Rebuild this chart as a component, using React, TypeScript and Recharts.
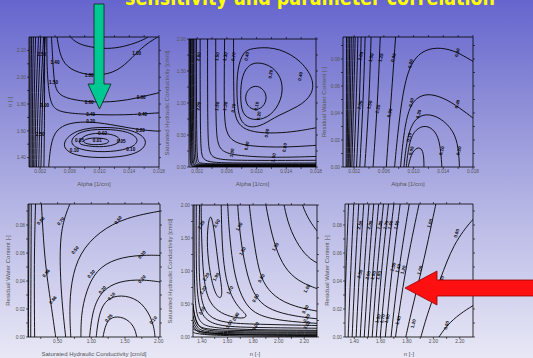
import React from 'react';
import { ScatterChart, Scatter, XAxis, YAxis, Label } from 'recharts';

// ---------- tick values ----------
const alphaTicks = [0.002, 0.004, 0.006, 0.008, 0.01, 0.012, 0.014, 0.016, 0.018];
const alphaLabels = [0.002, 0.006, 0.01, 0.014, 0.018];
const nTicks = [1.4, 1.5, 1.6, 1.7, 1.8, 1.9, 2.0, 2.1, 2.2];
const nLabels = [1.4, 1.6, 1.8, 2.0, 2.2];
const ksTicks = [0, 0.25, 0.5, 0.75, 1, 1.25, 1.5, 1.75, 2];
const ksLabels = [0, 0.5, 1, 1.5, 2];
const ksXTicks = [0.25, 0.5, 0.75, 1, 1.25, 1.5, 1.75, 2];
const ksXLabels = [0.5, 1, 1.5, 2];
const thetaTicks = [0, 0.01, 0.02, 0.03, 0.04, 0.05, 0.06, 0.07, 0.08, 0.09];
const thetaLabels = [0, 0.02, 0.04, 0.06, 0.08];

// ---------- panel 1 : Alpha vs n ----------
const p1Curves = [
  [[0.0058, 2.33], [0.006, 2.3], [0.0071, 2.248], [0.0089, 2.223], [0.0111, 2.21], [0.0133, 2.228], [0.0151, 2.26], [0.0167, 2.3], [0.017, 2.33]],
  [[0.0042, 2.33], [0.0046, 2.173], [0.0055, 2.074], [0.0078, 2.019], [0.0106, 2.012], [0.0129, 2.061], [0.0149, 2.178], [0.0164, 2.253], [0.0178, 2.297], [0.0185, 2.33]],
  [[0.0035, 2.33], [0.0037, 2.123], [0.0039, 1.949], [0.0044, 1.875], [0.0058, 1.837], [0.0089, 1.812], [0.0124, 1.817], [0.0151, 1.845], [0.0182, 1.887]],
  [[0.0029, 2.33], [0.0029, 2.074], [0.0032, 1.85], [0.0038, 1.763], [0.0053, 1.733], [0.0089, 1.721], [0.0133, 1.716], [0.0182, 1.735]],
  [[0.0031, 1.3], [0.0034, 1.502], [0.0041, 1.606], [0.0058, 1.661], [0.0089, 1.671], [0.0124, 1.638], [0.0155, 1.606], [0.0182, 1.596]],
  [[0.0006, 1.3], [0.0006, 1.825], [0.00064, 2.33]],
  [[0.00077, 1.3], [0.00077, 1.825], [0.00086, 2.33]],
  [[0.00095, 1.3], [0.00095, 1.825], [0.0011, 2.33]],
  [[0.00113, 1.3], [0.00117, 1.825], [0.0014, 2.33]],
  [[0.0013, 1.3], [0.0014, 1.825], [0.0018, 2.33]],
  [[0.0015, 1.3], [0.0017, 1.825], [0.0021, 2.33]],
  [[0.0018, 1.3], [0.002, 1.825], [0.0025, 2.33]],
  [[0.0021, 1.3], [0.0023, 1.825], [0.0027, 2.33]],
  [[0.0025, 1.3], [0.0026, 1.7], [0.0026, 2.33]],
];
const p1Loops = [
  [[0.0114, 1.521], [0.0109, 1.541], [0.0095, 1.549], [0.0082, 1.541], [0.0077, 1.521], [0.0082, 1.502], [0.0095, 1.494], [0.0109, 1.502]],
  [[0.013, 1.531], [0.0121, 1.571], [0.01, 1.586], [0.0079, 1.571], [0.007, 1.507], [0.0079, 1.49], [0.01, 1.477], [0.0121, 1.492]],
  [[0.0155, 1.527], [0.0141, 1.596], [0.0106, 1.616], [0.0072, 1.601], [0.0058, 1.514], [0.0072, 1.457], [0.0106, 1.437], [0.0141, 1.462]],
  [[0.0167, 1.514], [0.0151, 1.601], [0.0111, 1.633], [0.0066, 1.614], [0.0046, 1.489], [0.0066, 1.407], [0.0111, 1.395], [0.0151, 1.422]],
];
const p1Labels: [number, number, string][] = [
  [0.0086, 2.015, '1.00'], [0.015, 2.18, '1.00'], [0.0086, 1.812, '0.60'], [0.0156, 1.85, '0.60'],
  [0.0088, 1.721, '0.40'], [0.0158, 1.72, '0.40'], [0.0088, 1.671, '0.20'], [0.0155, 1.606, '0.20'],
  [0.0104, 1.58, '0.02'], [0.0097, 1.53, '0.01'], [0.0073, 1.525, '0.05'], [0.0129, 1.52, '0.05'],
  [0.0066, 1.455, '0.10'], [0.0142, 1.462, '0.10'], [0.0022, 2.17, '2.50'], [0.0026, 1.787, '2.00'],
  [0.002, 1.576, '2.50'], [0.004, 2.11, '1.40'], [0.0038, 1.96, '1.50'],
];

// ---------- panel 2 : Alpha vs Ks ----------
const p2Curves = [
  [[0.0069, 2.1], [0.0069, 1.028], [0.0071, 0.77], [0.008, 0.6], [0.0102, 0.53], [0.0134, 0.53], [0.0161, 0.57], [0.0183, 0.62]],
  [[0.0057, 2.1], [0.0056, 0.925], [0.0058, 0.537], [0.0069, 0.382], [0.0093, 0.32], [0.0138, 0.305], [0.0183, 0.341]],
  [[0.0045, 2.1], [0.0045, 0.718], [0.0047, 0.331], [0.0057, 0.217], [0.008, 0.171], [0.0125, 0.145], [0.0183, 0.166]],
  [[0.0034, 2.1], [0.0034, 0.512], [0.0036, 0.2], [0.0045, 0.12], [0.0075, 0.1], [0.0183, 0.105]],
  [[0.0024, 2.1], [0.0024, 0.3], [0.0027, 0.11], [0.004, 0.07], [0.0071, 0.06], [0.0183, 0.062]],
  [[0.0019, 2.1], [0.0019, 0.12], [0.0022, 0.06], [0.0035, 0.046], [0.0183, 0.045]],
  [[0.0017, 2.1], [0.0017, 0.1], [0.002, 0.045], [0.0033, 0.037], [0.0183, 0.036]],
  [[0.0015, 2.1], [0.0015, 0.08], [0.0018, 0.035], [0.003, 0.029], [0.0183, 0.028]],
  [[0.00135, 2.1], [0.00135, 0.065], [0.0016, 0.027], [0.0028, 0.022], [0.0183, 0.021]],
  [[0.0012, 2.1], [0.0012, 0.05], [0.0015, 0.02], [0.0026, 0.016], [0.0183, 0.015]],
  [[0.0011, 2.1], [0.0011, 0.035], [0.0013, 0.013], [0.0024, 0.01], [0.0183, 0.009]],
  [[0.001, 2.1], [0.001, 0.02], [0.0012, 0.007], [0.0022, 0.005], [0.0183, 0.004]],
];
const p2Loops = [
  [[0.0098, 1.29], [0.0111, 1.21], [0.01145, 1.044], [0.0106, 0.899], [0.0093, 0.889], [0.0084, 1.018], [0.0086, 1.194]],
  [[0.01, 1.649], [0.01226, 1.576], [0.0136, 1.338], [0.01338, 1.039], [0.01194, 0.796], [0.01, 0.718], [0.0082, 0.785], [0.0078, 1.018], [0.0079, 1.38], [0.0087, 1.576]],
  [[0.0093, 1.855], [0.0123, 1.881], [0.0154, 1.726], [0.01765, 1.416], [0.01765, 1.132], [0.0156, 0.935], [0.0129, 0.811], [0.0109, 0.656], [0.0091, 0.6], [0.0076, 0.72], [0.0073, 1.132], [0.0074, 1.545], [0.0082, 1.8]],
];
const p2Labels: [number, number, string][] = [
  [0.0022, 1.726, '2.00'], [0.0047, 1.726, '1.50'], [0.0058, 1.726, '1.30'], [0.0069, 1.726, '0.70'],
  [0.0022, 0.95, '2.00'], [0.0047, 0.95, '1.50'], [0.0058, 0.95, '1.30'], [0.0069, 0.92, '0.70'],
  [0.0087, 1.73, '0.40'], [0.0159, 1.416, '0.40'], [0.0119, 1.45, '0.20'], [0.0103, 0.8, '0.20'],
  [0.01, 0.95, '0.10'], [0.0114, 0.53, '0.60'], [0.0087, 0.33, '0.80'], [0.0138, 0.305, '0.80'],
  [0.0067, 0.22, '1.00'], [0.0123, 0.145, '1.00'],
];

// ---------- panel 3 : Alpha vs theta_r ----------
const p3Curves = [
  [[0.00092, -0.002], [0.00097, 0.049], [0.00097, 0.1]],
  [[0.00105, -0.002], [0.00114, 0.049], [0.00119, 0.1]],
  [[0.00119, -0.002], [0.00132, 0.049], [0.00141, 0.1]],
  [[0.00132, -0.002], [0.0015, 0.049], [0.00163, 0.1]],
  [[0.0015, -0.002], [0.00172, 0.049], [0.0019, 0.1]],
  [[0.00168, -0.002], [0.00194, 0.049], [0.00216, 0.1]],
  [[0.00194, -0.002], [0.0023, 0.049], [0.00252, 0.1]],
  [[0.0023, -0.002], [0.00274, 0.049], [0.00296, 0.1]],
  [[0.00274, -0.002], [0.00323, 0.049], [0.0035, 0.1]],
  [[0.00341, -0.002], [0.00403, 0.049], [0.0043, 0.1]],
  [[0.00452, -0.002], [0.00518, 0.049], [0.00554, 0.1]],
  [[0.0063, -0.002], [0.00696, 0.049], [0.00763, 0.1]],
  [[0.0074, -0.0027], [0.00785, 0.0244], [0.00851, 0.0539], [0.0094, 0.0748], [0.011, 0.0859], [0.01318, 0.0889], [0.0154, 0.0864], [0.01717, 0.081], [0.0185, 0.0765]],
  [[0.0082, -0.0027], [0.00865, 0.0244], [0.0094, 0.0453], [0.01073, 0.0527], [0.01229, 0.0544], [0.01451, 0.0502], [0.01673, 0.0416], [0.0185, 0.0342]],
  [[0.00865, -0.0027], [0.0091, 0.022], [0.01007, 0.0355], [0.01162, 0.0399], [0.01362, 0.0367], [0.0154, 0.0269], [0.01606, 0.0146], [0.0162, -0.0027]],
  [[0.00896, -0.0027], [0.0094, 0.0195], [0.01029, 0.0281], [0.01162, 0.0313], [0.01295, 0.0269], [0.01362, 0.017], [0.01384, -0.0027]],
  [[0.00918, -0.0027], [0.00962, 0.0096], [0.01051, 0.015], [0.01118, 0.0133], [0.0114, 0.0072], [0.0114, -0.0027]],
];
const p3Labels: [number, number, string][] = [
  [0.0029, 0.082, '2.00'], [0.0043, 0.081, '1.50'], [0.0056, 0.081, '1.25'], [0.0073, 0.081, '0.90'],
  [0.0028, 0.046, '2.00'], [0.0041, 0.046, '1.50'], [0.0052, 0.043, '1.25'], [0.0068, 0.04, '0.90'],
  [0.0096, 0.0765, '0.60'], [0.0159, 0.0847, '0.60'], [0.0097, 0.0478, '0.40'], [0.0159, 0.0466, '0.40'],
  [0.0107, 0.0392, '0.20'], [0.0161, 0.0121, '0.20'], [0.0094, 0.022, '0.10'], [0.0138, 0.0121, '0.10'],
  [0.0097, 0.0121, '0.05'],
];

// ---------- panel 4 : Ks vs theta_r ----------
const p4Curves = [
  [[0.075, 0.097], [0.07, 0.049], [0.065, -0.0025]],
  [[0.109, 0.097], [0.104, 0.047], [0.1, -0.0025]],
  [[0.173, 0.097], [0.149, 0.054], [0.159, -0.0025]],
  [[0.257, 0.097], [0.306, 0.054], [0.404, 0.023], [0.478, -0.0025]],
  [[0.699, 0.097], [0.576, 0.0826], [0.527, 0.0635], [0.551, 0.03], [0.625, -0.0025]],
  [[2.05, 0.0902], [1.509, 0.0854], [1.116, 0.0754], [0.821, 0.0599], [0.699, 0.0396], [0.674, 0.018], [0.699, -0.0025]],
  [[2.05, 0.0582], [1.754, 0.0587], [1.362, 0.0563], [1.067, 0.0479], [0.92, 0.0324], [0.846, 0.0157], [0.846, -0.0025]],
  [[2.05, 0.0391], [1.754, 0.0412], [1.411, 0.04], [1.165, 0.0336], [1.018, 0.0204], [0.969, -0.0025]],
  [[1.951, -0.0025], [1.926, 0.0109], [1.754, 0.0252], [1.509, 0.03], [1.263, 0.0288], [1.116, 0.0192], [1.067, -0.0025]],
  [[1.165, -0.0025], [1.214, 0.0109], [1.337, 0.0152], [1.533, 0.0133], [1.656, 0.0061], [1.681, -0.0025]],
];
const p4Labels: [number, number, string][] = [
  [0.25, 0.083, '0.86'], [0.33, 0.0455, '0.86'], [0.43, 0.0264, '0.86'], [0.55, 0.0826, '0.70'],
  [0.76, 0.062, '0.50'], [1.4, 0.0835, '0.50'], [1.0, 0.045, '0.30'], [1.754, 0.0587, '0.30'],
  [1.165, 0.0336, '0.20'], [1.754, 0.0412, '0.20'], [1.3, 0.029, '0.10'], [1.92, 0.012, '0.10'],
  [1.26, 0.0135, '0.05'],
];

// ---------- panel 5 : n vs Ks ----------
const p5Curves = [
  [[2.175, 2.1], [2.184, 2.0], [2.235, 1.772], [2.313, 1.57], [2.35, 1.5]],
  [[2.035, 2.1], [2.041, 2.0], [2.08, 1.671], [2.158, 1.367], [2.248, 1.165], [2.35, 1.08]],
  [[1.895, 2.1], [1.899, 2.0], [1.938, 1.62], [1.99, 1.266], [2.067, 0.987], [2.184, 0.81], [2.35, 0.7]],
  [[1.765, 2.1], [1.77, 2.0], [1.796, 1.57], [1.834, 1.114], [1.873, 0.835], [1.964, 0.608], [2.119, 0.456], [2.35, 0.375]],
  [[1.677, 2.1], [1.679, 2.0], [1.692, 1.671], [1.718, 1.266], [1.77, 0.81], [1.834, 0.557], [1.938, 0.405], [2.119, 0.314], [2.35, 0.265]],
  [[1.6, 2.1], [1.601, 2.0], [1.614, 1.57], [1.64, 1.114], [1.679, 0.76], [1.744, 0.481], [1.834, 0.33], [2.015, 0.243], [2.35, 0.2]],
  [[1.55, 2.1], [1.555, 1.468], [1.576, 0.962], [1.627, 0.608], [1.705, 0.405], [1.757, 0.33], [1.731, 0.279], [1.653, 0.294], [1.55, 0.355], [1.459, 0.506], [1.415, 0.81], [1.4, 1.317], [1.394, 1.772], [1.394, 2.1]],
  [[1.382, 2.1], [1.374, 1.063], [1.389, 0.557], [1.446, 0.304], [1.576, 0.213], [1.808, 0.193], [2.35, 0.172]],
  [[1.356, 2.1], [1.353, 0.81], [1.382, 0.33], [1.498, 0.162], [1.808, 0.142], [2.35, 0.132]],
  [[1.338, 2.1], [1.338, 0.557], [1.369, 0.203], [1.498, 0.112], [2.35, 0.101]],
  [[1.33, 0.5], [1.35, 0.16], [1.45, 0.095], [2.35, 0.088]],
  [[1.322, 0.557], [1.356, 0.127], [1.472, 0.076], [2.35, 0.071]],
  [[1.32, 0.4], [1.356, 0.1], [1.47, 0.062], [2.35, 0.057]],
  [[1.317, 0.304], [1.356, 0.076], [1.472, 0.046], [2.35, 0.041]],
  [[1.317, 0.22], [1.36, 0.055], [1.47, 0.034], [2.35, 0.03]],
  [[1.317, 0.152], [1.369, 0.035], [2.35, 0.02]],
  [[1.32, 0.08], [1.4, 0.015], [2.35, 0.008]],
];
const p5Loops = [
  [[1.472, 1.899], [1.503, 1.519], [1.529, 1.063], [1.563, 0.668], [1.545, 0.567], [1.503, 0.648], [1.462, 0.962], [1.438, 1.367], [1.446, 1.721]],
];
const p5Labels: [number, number, string][] = [
  [1.394, 1.7, '2.20'], [1.515, 1.72, '2.00'], [1.433, 0.91, '2.20'], [1.511, 0.91, '1.90'],
  [1.692, 1.671, '1.50'], [1.718, 1.3, '1.50'], [1.975, 1.367, '1.00'], [1.865, 0.89, '0.80'],
  [1.82, 0.59, '0.60'], [2.222, 0.734, '1.00'], [2.21, 0.42, '0.80'], [2.22, 0.29, '0.60'],
  [1.666, 0.31, '0.40'], [1.41, 0.71, '2.20'], [1.4, 0.4, '2.50'], [1.62, 0.71, '1.70'],
  [1.614, 0.19, '3.00'], [1.82, 0.165, '3.00'], [2.222, 0.18, '3.00'],
];

// ---------- panel 6 : n vs theta_r ----------
const p6Curves = [
  [[1.322, -0.0025], [1.337, 0.0477], [1.358, 0.0979]],
  [[1.353, -0.0025], [1.373, 0.0477], [1.398, 0.0979]],
  [[1.383, -0.0025], [1.406, 0.0477], [1.436, 0.0979]],
  [[1.413, -0.0025], [1.439, 0.0477], [1.474, 0.0979]],
  [[1.444, -0.0025], [1.474, 0.0477], [1.514, 0.0979]],
  [[1.474, -0.0025], [1.507, 0.0477], [1.55, 0.0979]],
  [[1.504, -0.0025], [1.54, 0.0477], [1.588, 0.0979]],
  [[1.534, -0.0025], [1.572, 0.0477], [1.625, 0.0979]],
  [[1.565, -0.0025], [1.605, 0.0477], [1.663, 0.0979]],
  [[1.595, -0.0025], [1.641, 0.0477], [1.704, 0.0979]],
  [[1.633, -0.0025], [1.684, 0.0477], [1.752, 0.0979]],
  [[1.676, -0.0025], [1.734, 0.0477], [1.822, 0.0979]],
  [[1.709, -0.0025], [1.785, 0.0477], [1.898, 0.0979]],
  [[1.785, -0.0025], [1.835, 0.019], [1.898, 0.0429], [1.961, 0.0692], [2.025, 0.0979]],
  [[1.898, -0.0025], [1.961, 0.019], [2.05, 0.0405], [2.151, 0.0668], [2.302, 0.0848], [2.35, 0.088]],
  [[2.025, -0.0025], [2.1, 0.0083], [2.201, 0.0166], [2.302, 0.0226], [2.35, 0.025]],
];
const p6Labels: [number, number, string][] = [
  [1.444, 0.08, '2.50'], [1.519, 0.08, '2.00'], [1.595, 0.08, '1.80'], [1.64, 0.08, '1.70'],
  [1.675, 0.08, '1.60'], [1.721, 0.08, '1.50'], [1.444, 0.045, '2.50'], [1.505, 0.044, '2.00'],
  [1.545, 0.044, '1.90'], [1.585, 0.044, '1.80'], [1.696, 0.05, '1.50'], [1.734, 0.049, '1.40'],
  [1.772, 0.048, '1.20'], [1.58, 0.0131, '1.80'], [1.615, 0.0131, '1.70'], [1.65, 0.0131, '1.60'],
  [1.734, 0.0119, '1.40'], [1.848, 0.0095, '1.20'], [1.898, 0.0477, '1.00'], [1.974, 0.0812, '1.00'],
  [2.062, 0.0405, '0.80'], [2.176, 0.074, '0.80'], [2.1, 0.0083, '0.60'],
];

// ---------- helpers ----------
const toPts = (a: number[][]) => a.map(([x, y]) => ({ x, y }));
const toLbl = (a: [number, number, string][]) => a.map(([x, y, t]) => ({ x, y, t }));
const fmt = (labels: number[], digits: number) => (v: number) =>
  labels.some((l) => Math.abs(l - v) < 1e-9) ? v.toFixed(digits) : '';

const Empty = () => <g />;
const makeLabelShape = (angle: number) => (p: any) => (
  <text
    x={p.cx}
    y={p.cy}
    fontSize={4.6}
    fontWeight={700}
    fill="#000"
    textAnchor="middle"
    dominantBaseline="central"
    transform={angle ? `rotate(${angle} ${p.cx} ${p.cy})` : undefined}
  >
    {p.payload.t}
  </text>
);

const YW = 28;
const RW = 4;
const TH = 4;
const BH = 22;
const tickStyle = { fontSize: 4.8, fill: '#555' };
const axisLine = { stroke: '#000', strokeWidth: 0.8 };
const tickLine = { stroke: '#000', strokeWidth: 0.6 };

type PanelProps = {
  left: number; top: number; w: number; h: number;
  xDomain: [number, number]; yDomain: [number, number];
  xTicks: number[]; xLabels: number[]; xDigits: number;
  yTicks: number[]; yLabels: number[]; yDigits: number;
  xTitle: string; yTitle: string; yTitleOffset: number; labelAngle: number;
  curves: number[][][]; loops: number[][][]; labels: [number, number, string][];
};

function Panel(p: PanelProps) {
  const W = YW + p.w + RW;
  const H = TH + p.h + BH;
  return (
    <div style={{ position: 'absolute', left: p.left - YW, top: p.top - TH }}>
      <ScatterChart width={W} height={H} margin={{ top: 0, right: 0, bottom: 0, left: 0 }}>
        <XAxis
          xAxisId="b" type="number" dataKey="x" domain={p.xDomain} allowDataOverflow
          ticks={p.xTicks} interval={0} tickFormatter={fmt(p.xLabels, p.xDigits)}
          height={BH} tickSize={2} tickMargin={1} tick={tickStyle}
          axisLine={axisLine} tickLine={tickLine}
        >
          <Label value={p.xTitle} position="insideBottom" offset={3} style={{ fontSize: 6, fill: '#555' }} />
        </XAxis>
        <XAxis
          xAxisId="t" orientation="top" type="number" dataKey="x" domain={p.xDomain} allowDataOverflow
          ticks={p.xTicks} interval={0} tickFormatter={() => ''} height={TH} tickSize={2}
          axisLine={axisLine} tickLine={tickLine}
        />
        <YAxis
          yAxisId="l" type="number" dataKey="y" domain={p.yDomain} allowDataOverflow
          ticks={p.yTicks} interval={0} tickFormatter={fmt(p.yLabels, p.yDigits)}
          width={YW} tickSize={2} tickMargin={1} tick={tickStyle}
          axisLine={axisLine} tickLine={tickLine}
        >
          <Label
            value={p.yTitle} angle={-90} position="insideLeft" offset={p.yTitleOffset}
            style={{ fontSize: 6, fill: '#555', textAnchor: 'middle' }}
          />
        </YAxis>
        <YAxis
          yAxisId="r" orientation="right" type="number" dataKey="y" domain={p.yDomain} allowDataOverflow
          ticks={p.yTicks} interval={0} tickFormatter={() => ''} width={RW} tickSize={2}
          axisLine={axisLine} tickLine={tickLine}
        />
        {p.curves.map((c, i) => (
          <Scatter
            key={'c' + i} data={toPts(c)} xAxisId="b" yAxisId="l" fill="#000"
            line={{ stroke: '#000', strokeWidth: 0.9 }} lineJointType="basis"
            shape={Empty} isAnimationActive={false} legendType="none"
          />
        ))}
        {p.loops.map((c, i) => (
          <Scatter
            key={'l' + i} data={toPts(c)} xAxisId="b" yAxisId="l" fill="#000"
            line={{ stroke: '#000', strokeWidth: 0.9 }} lineJointType="basisClosed"
            shape={Empty} isAnimationActive={false} legendType="none"
          />
        ))}
        <Scatter
          data={toLbl(p.labels)} xAxisId="b" yAxisId="l" fill="#000"
          shape={makeLabelShape(p.labelAngle)} isAnimationActive={false} legendType="none"
        />
      </ScatterChart>
    </div>
  );
}

const panels: PanelProps[] = [
  {
    left: 29, top: 37, w: 130, h: 130, xDomain: [0.0005, 0.018], yDomain: [1.33, 2.3],
    xTicks: alphaTicks, xLabels: alphaLabels, xDigits: 3, yTicks: nTicks, yLabels: nLabels, yDigits: 2,
    xTitle: 'Alpha [1/cm]', yTitle: 'n [-]', yTitleOffset: 9, labelAngle: 0,
    curves: p1Curves, loops: p1Loops, labels: p1Labels,
  },
  {
    left: 189, top: 39, w: 127, h: 128, xDomain: [0.0009, 0.018], yDomain: [0, 2],
    xTicks: alphaTicks, xLabels: alphaLabels, xDigits: 3, yTicks: ksTicks, yLabels: ksLabels, yDigits: 2,
    xTitle: 'Alpha [1/cm]', yTitle: 'Saturated Hydraulic Conductivity [cm/d]', yTitleOffset: 6, labelAngle: -80,
    curves: p2Curves, loops: p2Loops, labels: p2Labels,
  },
  {
    left: 343, top: 37, w: 130, h: 130, xDomain: [0.0005, 0.018], yDomain: [0, 0.0963],
    xTicks: alphaTicks, xLabels: alphaLabels, xDigits: 3, yTicks: thetaTicks, yLabels: thetaLabels, yDigits: 2,
    xTitle: 'Alpha [1/cm]', yTitle: 'Residual Water Content [-]', yTitleOffset: 9, labelAngle: -75,
    curves: p3Curves, loops: [], labels: p3Labels,
  },
  {
    left: 28, top: 204, w: 132, h: 133, xDomain: [0.06, 2.02], yDomain: [0, 0.095],
    xTicks: ksXTicks, xLabels: ksXLabels, xDigits: 2, yTicks: thetaTicks, yLabels: thetaLabels, yDigits: 2,
    xTitle: 'Saturated Hydraulic Conductivity [cm/d]', yTitle: 'Residual Water Content [-]', yTitleOffset: 8, labelAngle: -50,
    curves: p4Curves, loops: [], labels: p4Labels,
  },
  {
    left: 193, top: 205, w: 124, h: 132, xDomain: [1.33, 2.3], yDomain: [0, 2],
    xTicks: nTicks, xLabels: nLabels, xDigits: 2, yTicks: ksTicks, yLabels: ksLabels, yDigits: 2,
    xTitle: 'n [-]', yTitle: 'Saturated Hydraulic Conductivity [cm/d]', yTitleOffset: 5, labelAngle: -60,
    curves: p5Curves, loops: p5Loops, labels: p5Labels,
  },
  {
    left: 345, top: 204, w: 128, h: 133, xDomain: [1.33, 2.3], yDomain: [0, 0.095],
    xTicks: nTicks, xLabels: nLabels, xDigits: 2, yTicks: thetaTicks, yLabels: thetaLabels, yDigits: 2,
    xTitle: 'n [-]', yTitle: 'Residual Water Content [-]', yTitleOffset: 10, labelAngle: -72,
    curves: p6Curves, loops: [], labels: p6Labels,
  },
];

export default function App() {
  return (
    <div
      style={{
        position: 'absolute', left: 0, top: 0, width: 533, height: 358, overflow: 'hidden',
        background: 'linear-gradient(180deg, #6565ce 0%, #8f8fd8 30%, #b8b8e6 60%, #e8e8f6 100%)',
        fontFamily: '"Liberation Sans", Arial, sans-serif',
      }}
    >
      <style>{'.recharts-surface{overflow:visible}'}</style>
      {panels.map((p, i) => (
        <Panel key={i} {...p} />
      ))}
      <svg width={533} height={358} style={{ position: 'absolute', left: 0, top: 0, pointerEvents: 'none' }}>
        <text
          x={125} y={5} fill="#ffff00" fontSize={22} fontWeight={700} textLength={370} lengthAdjust="spacingAndGlyphs"
          fontFamily='"DejaVu Sans", sans-serif'
        >
          sensitivity and parameter correlation
        </text>
        <polygon points="94,4 104,4 104,84 111,84 99.5,109 88,84 94,84" fill="#00c893" stroke="#1a1a1a" strokeWidth={0.8} />
        <polygon points="405,288 437,271 437,280 536,280 536,296 437,296 437,305" fill="#ff1010" stroke="#900000" strokeWidth={0.8} />
      </svg>
    </div>
  );
}
